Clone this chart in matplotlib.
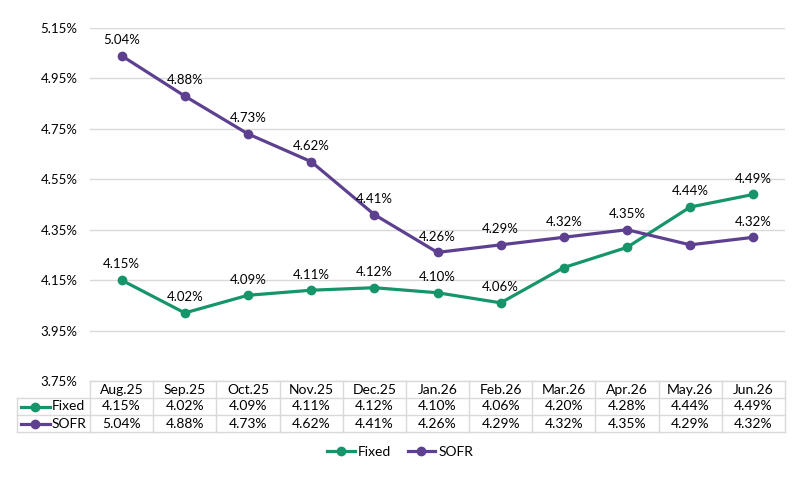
import matplotlib.pyplot as plt
from matplotlib.lines import Line2D
from matplotlib.transforms import blended_transform_factory

months = ['Aug.25', 'Sep.25', 'Oct.25', 'Nov.25', 'Dec.25', 'Jan.26',
          'Feb.26', 'Mar.26', 'Apr.26', 'May.26', 'Jun.26']
fixed = [4.15, 4.02, 4.09, 4.11, 4.12, 4.10, 4.06, 4.20, 4.28, 4.44, 4.49]
sofr = [5.04, 4.88, 4.73, 4.62, 4.41, 4.26, 4.29, 4.32, 4.35, 4.29, 4.32]
# which points carry a data label on the chart
fixed_labeled = [1, 1, 1, 1, 1, 1, 1, 0, 0, 1, 1]
sofr_labeled = [1, 1, 1, 1, 1, 1, 1, 1, 1, 0, 1]
yticks = [3.75, 3.95, 4.15, 4.35, 4.55, 4.75, 4.95, 5.15]

GREEN = '#16956a'
PURPLE = '#5d4190'
GRID = '#d9d9d9'

plt.rcParams['font.family'] = ['Lato', 'DejaVu Sans']
plt.rcParams['font.size'] = 9.5

W, H = 801, 483
fig = plt.figure(figsize=(W / 100, H / 100), dpi=100)
left, right, top, bottom = 90, 785, 28, 381
ax = fig.add_axes([left / W, 1 - bottom / H, (right - left) / W, (bottom - top) / H])

x = list(range(len(months)))
ax.plot(x, fixed, color=GREEN, lw=2.3, marker='o', ms=6, zorder=3)
ax.plot(x, sofr, color=PURPLE, lw=2.3, marker='o', ms=6, zorder=3)

for i in x:
    if fixed_labeled[i]:
        ax.annotate(f'{fixed[i]:.2f}%', (i, fixed[i]), xytext=(0, 7),
                    textcoords='offset points', ha='center', va='bottom')
    if sofr_labeled[i]:
        ax.annotate(f'{sofr[i]:.2f}%', (i, sofr[i]), xytext=(0, 7),
                    textcoords='offset points', ha='center', va='bottom')

ax.set_xlim(-0.5, len(months) - 0.5)
ax.set_ylim(3.75, 5.15)
ax.set_yticks(yticks)
ax.set_yticklabels([f'{v:.2f}%' for v in yticks])
ax.set_xticks([])
ax.grid(axis='y', color=GRID, lw=1)
ax.set_axisbelow(True)
for s in ax.spines.values():
    s.set_visible(False)
ax.tick_params(axis='y', length=0, pad=9)

# data table under the plot
tr = blended_transform_factory(ax.transData, fig.transFigure)
trf = fig.transFigure
row_h = 17
r0 = bottom
rows_y = [r0, r0 + row_h, r0 + 2 * row_h, r0 + 3 * row_h]
fy = lambda p: 1 - p / H
lab_left = 17
tfs = 10

ax.add_line(Line2D([-0.5, len(months) - 0.5], [fy(rows_y[0])] * 2, transform=tr,
                   color=GRID, lw=1, clip_on=False))
for yy in rows_y[1:]:
    fig.add_artist(Line2D([lab_left / W, right / W], [fy(yy)] * 2, transform=trf,
                          color=GRID, lw=1))
for i in range(len(months) + 1):
    ax.add_line(Line2D([i - 0.5, i - 0.5], [fy(rows_y[0]), fy(rows_y[3])], transform=tr,
                       color=GRID, lw=1, clip_on=False))
fig.add_artist(Line2D([lab_left / W] * 2, [fy(rows_y[1]), fy(rows_y[3])], transform=trf,
                      color=GRID, lw=1))

for i, m in enumerate(months):
    ax.text(i, fy(rows_y[0] + row_h / 2), m, transform=tr, ha='center', va='center', fontsize=tfs)
    ax.text(i, fy(rows_y[1] + row_h / 2), f'{fixed[i]:.2f}%', transform=tr,
            ha='center', va='center', fontsize=tfs)
    ax.text(i, fy(rows_y[2] + row_h / 2), f'{sofr[i]:.2f}%', transform=tr,
            ha='center', va='center', fontsize=tfs)

for k, (name, col) in enumerate([('Fixed', GREEN), ('SOFR', PURPLE)]):
    yc = fy(rows_y[k + 1] + row_h / 2)
    fig.add_artist(Line2D([21 / W, 35 / W, 50 / W], [yc] * 3, transform=trf, color=col,
                          lw=2.3, marker='o', markevery=[1], ms=6))
    fig.text(52 / W, yc, name, ha='left', va='center', fontsize=tfs)

handles = [Line2D([0], [0], color=GREEN, lw=2.3, marker='o', ms=6, label='Fixed'),
           Line2D([0], [0], color=PURPLE, lw=2.3, marker='o', ms=6, label='SOFR')]
fig.legend(handles=handles, loc='center', bbox_to_anchor=(400 / W, 1 - 452 / H), ncol=2,
           frameon=False, handlelength=2.0, handletextpad=0.2, columnspacing=1.2,
           fontsize=tfs)

fig.savefig('out.png', dpi=100)
